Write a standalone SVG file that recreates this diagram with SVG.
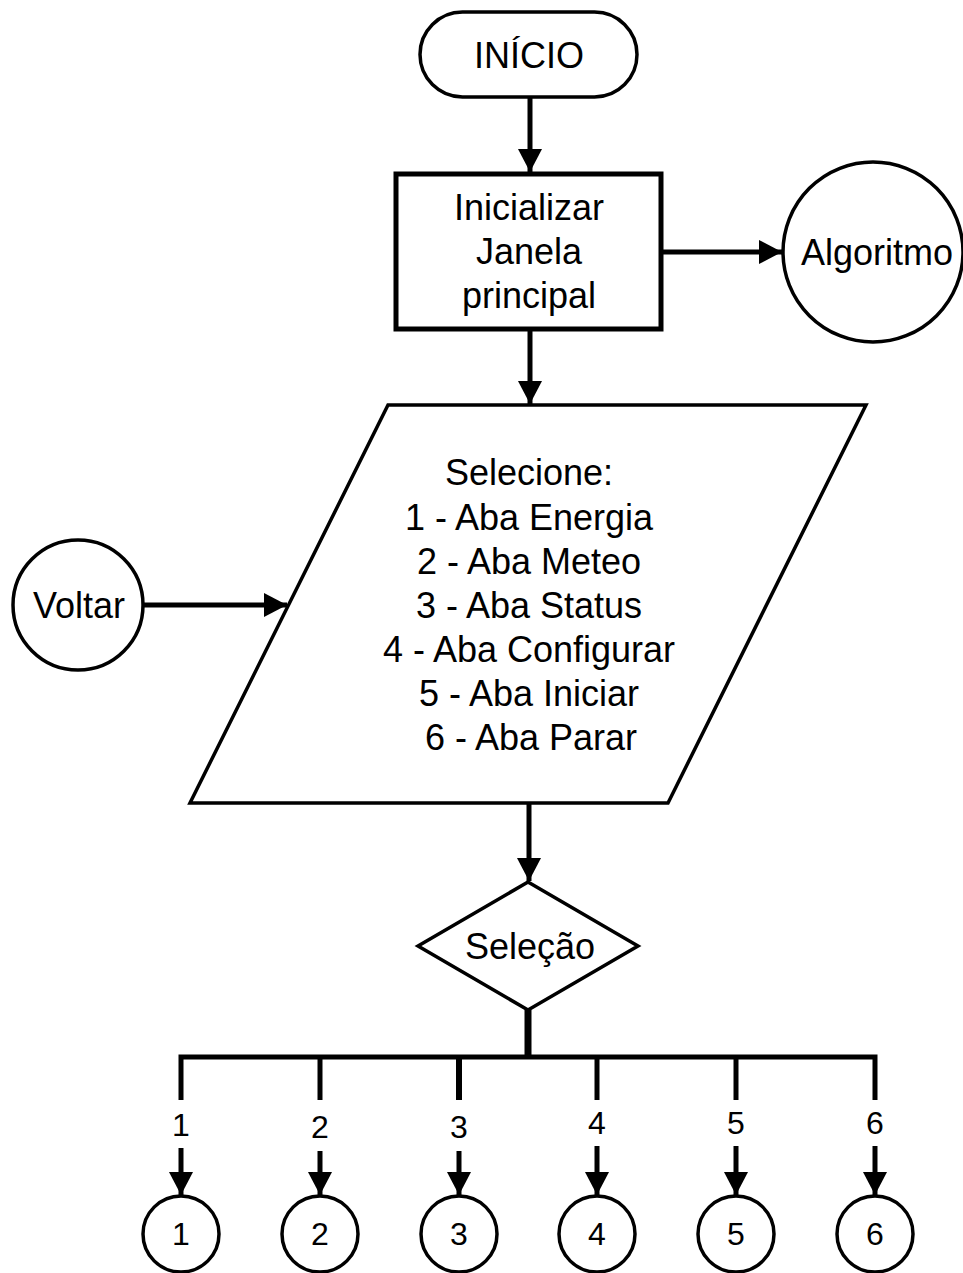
<svg xmlns="http://www.w3.org/2000/svg" width="963" height="1273" viewBox="0 0 963 1273">
  <style>
    .shape { fill: #fff; stroke: #000; stroke-width: 3.5; }
    .box { fill: #fff; stroke: #000; stroke-width: 5; }
    .label { font-family: "Liberation Sans", Arial, sans-serif; font-size: 36px; fill: #000; text-anchor: middle; dominant-baseline: central; }
    .num { font-family: "Liberation Sans", Arial, sans-serif; font-size: 32px; fill: #000; text-anchor: middle; dominant-baseline: central; }
    .wire { fill: none; stroke: #000; stroke-width: 5; }
    .arrow { fill: none; stroke: #000; stroke-width: 5; marker-end: url(#head); }
  </style>
  <defs>
    <marker id="head" markerUnits="userSpaceOnUse" markerWidth="24" markerHeight="24" refX="23" refY="12" orient="auto">
      <path d="M0,0 L23,12 L0,24 z" fill="#000"/>
    </marker>
  </defs>

  <rect width="963" height="1273" fill="#fff"/>

  <!-- connectors -->
  <g id="connectors">
    <line class="arrow" x1="530" y1="97" x2="530" y2="172"/>
    <line class="arrow" x1="662" y1="252" x2="782" y2="252"/>
    <line class="arrow" x1="530" y1="331" x2="530" y2="404"/>
    <line class="arrow" x1="143" y1="605" x2="287" y2="605"/>
    <line class="arrow" x1="529" y1="803" x2="529" y2="881"/>
    <line x1="528" y1="1010" x2="528" y2="1059" stroke="#000" stroke-width="7"/>
    <path class="wire" d="M181,1100 V1057 H875 V1100"/>
    <line class="wire" x1="320" y1="1057" x2="320" y2="1100"/>
    <line class="wire" x1="459" y1="1057" x2="459" y2="1100" style="stroke-width:6"/>
    <line class="wire" x1="597" y1="1057" x2="597" y2="1100"/>
    <line class="wire" x1="736" y1="1057" x2="736" y2="1100"/>
    <line class="arrow" x1="181" y1="1148" x2="181" y2="1195"/>
    <line class="arrow" x1="320" y1="1151" x2="320" y2="1195"/>
    <line class="arrow" x1="459" y1="1151" x2="459" y2="1195"/>
    <line class="arrow" x1="597" y1="1146" x2="597" y2="1195"/>
    <line class="arrow" x1="736" y1="1146" x2="736" y2="1195"/>
    <line class="arrow" x1="875" y1="1146" x2="875" y2="1195"/>
    <text class="num" x="181" y="1125">1</text>
    <text class="num" x="320" y="1127">2</text>
    <text class="num" x="459" y="1127">3</text>
    <text class="num" x="597" y="1123">4</text>
    <text class="num" x="736" y="1123">5</text>
    <text class="num" x="875" y="1123">6</text>
  </g>

  <g id="inicio">
    <rect class="shape" x="420" y="12" width="217" height="85" rx="42.5" ry="42.5"/>
    <text class="label" x="529" y="55">INÍCIO</text>
  </g>

  <g id="inicializar">
    <rect class="box" x="396" y="174" width="265" height="155"/>
    <text class="label" x="529" y="207">Inicializar</text>
    <text class="label" x="529" y="251">Janela</text>
    <text class="label" x="529" y="295">principal</text>
  </g>

  <g id="algoritmo">
    <circle class="shape" cx="873" cy="252" r="90"/>
    <text class="label" x="877" y="252">Algoritmo</text>
  </g>

  <g id="voltar">
    <circle class="shape" cx="78" cy="605" r="65"/>
    <text class="label" x="79" y="605">Voltar</text>
  </g>

  <g id="selecione">
    <polygon class="shape" points="388,405 866,405 668,803 190,803"/>
    <text class="label" x="529" y="472">Selecione:</text>
    <text class="label" x="529" y="517">1 - Aba Energia</text>
    <text class="label" x="529" y="561">2 - Aba Meteo</text>
    <text class="label" x="529" y="605">3 - Aba Status</text>
    <text class="label" x="529" y="649">4 - Aba Configurar</text>
    <text class="label" x="529" y="693">5 - Aba Iniciar</text>
    <text class="label" x="531" y="737">6 - Aba Parar</text>
  </g>

  <g id="selecao">
    <polygon class="shape" points="528,882 638,946 528,1010 418,946"/>
    <text class="label" x="530" y="946">Seleção</text>
  </g>

  <g id="opcao-1">
    <circle class="shape" cx="181" cy="1234" r="38"/>
    <text class="num" x="181" y="1234">1</text>
  </g>
  <g id="opcao-2">
    <circle class="shape" cx="320" cy="1234" r="38"/>
    <text class="num" x="320" y="1234">2</text>
  </g>
  <g id="opcao-3">
    <circle class="shape" cx="459" cy="1234" r="38"/>
    <text class="num" x="459" y="1234">3</text>
  </g>
  <g id="opcao-4">
    <circle class="shape" cx="597" cy="1234" r="38"/>
    <text class="num" x="597" y="1234">4</text>
  </g>
  <g id="opcao-5">
    <circle class="shape" cx="736" cy="1234" r="38"/>
    <text class="num" x="736" y="1234">5</text>
  </g>
  <g id="opcao-6">
    <circle class="shape" cx="875" cy="1234" r="38"/>
    <text class="num" x="875" y="1234">6</text>
  </g>
</svg>
